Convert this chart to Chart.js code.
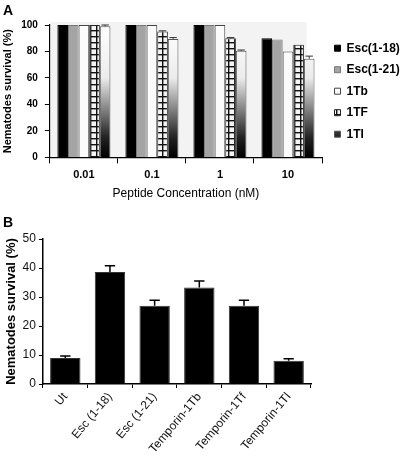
<!DOCTYPE html>
<html>
<head>
<meta charset="utf-8">
<script src="https://cdn.jsdelivr.net/npm/chart.js@4/dist/chart.umd.min.js"></script>
<style>
  html, body { margin: 0; padding: 0; background: #fff; }
  body { width: 400px; height: 462px; position: relative; overflow: hidden; }
  .panel { position: absolute; left: 0; width: 400px; }
  #wrapA { top: 0; height: 203px; }
  #wrapB { top: 200px; height: 262px; }
  .tag { position: absolute; left: 3px; font: bold 14px Arial, "Liberation Sans", sans-serif; color: #000; line-height: 16px; }
</style>
</head>
<body>
<div class="panel" id="wrapA"><canvas id="chartA"></canvas></div>
<div class="panel" id="wrapB"><canvas id="chartB"></canvas></div>
<div class="tag" style="top:2px">A</div>
<div class="tag" style="top:214px">B</div>
<script>
  // Panel A: survival vs peptide concentration
  const concLabels = ["0.01", "0.1", "1", "10"];
  const esc118A = [100, 100, 100, 90];
  const esc121A = [100, 100, 100, 89];
  const tbA = [100, 100, 100, 80];
  const tfA = [100, 95, 90, 85];
  const tlA = [99, 89.5, 80.5, 74.5];
  const tfErrA = [0, 0.6, 0.5, 0];
  const tlErrA = [1, 1, 0.6, 2];

  // Panel B: survival per peptide
  const peptideLabels = ["Ut", "Esc (1-18)", "Esc (1-21)", "Temporin-1Tb", "Temporin-1Tf", "Temporin-1Tl"];
  const survivalB = [9, 38.6, 27, 33.3, 27, 8];
  const survivalErrB = [0.7, 2.2, 1.9, 2.2, 1.9, 0.7];

  const FONT = 'Arial, "Liberation Sans", sans-serif';

  // small checkered tile for the 1TF bars
  function gridPattern() {
    const c = document.createElement("canvas");
    c.width = 6; c.height = 6;
    const g = c.getContext("2d");
    g.fillStyle = "#f4f4f4";
    g.fillRect(0, 0, 6, 6);
    g.fillStyle = "#111";
    g.fillRect(0, 0, 6, 1.4);
    g.fillRect(0, 0, 1.4, 6);
    return g.createPattern(c, "repeat");
  }

  // white-to-black fade used by the 1TI bars
  function fadeFill(context) {
    const area = context.chart.chartArea;
    if (!area) return "#888";
    const g = context.chart.ctx.createLinearGradient(0, area.top, 0, area.bottom);
    g.addColorStop(0, "#ffffff");
    g.addColorStop(0.4, "#ececec");
    g.addColorStop(0.62, "#8a8a8a");
    g.addColorStop(0.85, "#222");
    g.addColorStop(1, "#000");
    return g;
  }

  // upper error bars from dataset.errors
  const errorBars = {
    id: "errorBars",
    afterDatasetsDraw(chart) {
      const ctx = chart.ctx;
      const y = chart.scales.y;
      chart.data.datasets.forEach(function (ds, i) {
        if (!ds.errors) return;
        const meta = chart.getDatasetMeta(i);
        ctx.save();
        ctx.strokeStyle = ds.errorColor || "#000";
        ctx.lineWidth = ds.errorWidth || 1;
        meta.data.forEach(function (bar, j) {
          const e = ds.errors[j];
          if (!e) return;
          const top = y.getPixelForValue(ds.data[j] + e);
          const cap = bar.width * (ds.capRatio || 0.3);
          ctx.beginPath();
          ctx.moveTo(bar.x, bar.y);
          ctx.lineTo(bar.x, top);
          ctx.moveTo(bar.x - cap, top);
          ctx.lineTo(bar.x + cap, top);
          ctx.stroke();
        });
        ctx.restore();
      });
    }
  };

  // light plot background for panel A
  const plotBg = {
    id: "plotBg",
    beforeDraw(chart, args, opts) {
      if (!opts.color) return;
      const a = chart.chartArea;
      const ctx = chart.ctx;
      ctx.save();
      ctx.fillStyle = opts.color;
      ctx.fillRect(a.left + 1, a.top - 3, (a.right - a.left) * 0.94, a.bottom - a.top + 3);
      ctx.restore();
    }
  };

  new Chart(document.getElementById("chartA"), {
    type: "bar",
    data: {
      labels: concLabels,
      datasets: [
        { label: "Esc(1-18)", data: esc118A, backgroundColor: "#000", borderColor: "#000", borderWidth: 1 },
        { label: "Esc(1-21)", data: esc121A, backgroundColor: "#a4a4a4", borderColor: "#777", borderWidth: 1 },
        { label: "1Tb", data: tbA, backgroundColor: "#fbfbfb", borderColor: "#444", borderWidth: 1 },
        { label: "1TF", data: tfA, errors: tfErrA, errorColor: "#333", capRatio: 0.35,
          backgroundColor: gridPattern(), borderColor: "#222", borderWidth: 1 },
        { label: "1TI", data: tlA, errors: tlErrA, errorColor: "#333", capRatio: 0.35,
          backgroundColor: fadeFill, borderColor: "#555", borderWidth: 1 }
      ]
    },
    options: {
      responsive: true,
      maintainAspectRatio: false,
      animation: false,
      layout: { padding: { top: 25, left: 1, right: 0, bottom: 2 } },
      datasets: { bar: { categoryPercentage: 0.78, barPercentage: 1 } },
      plugins: {
        // empty right-hand subtitle keeps a small gap between plot and legend
        subtitle: { display: true, text: " ", position: "right", fullSize: false, padding: 0,
                    font: { size: 3, lineHeight: 1 } },
        legend: {
          position: "right",
          fullSize: false,
          weight: 3000,
          maxWidth: 75,
          labels: { boxWidth: 6, boxHeight: 6, padding: 9.5, color: "#000", font: { family: FONT, size: 12, weight: "bold" } }
        },
        tooltip: { enabled: false },
        plotBg: { color: "#f3f3f3" }
      },
      scales: {
        x: {
          grid: { display: true, drawOnChartArea: false, offset: true, tickLength: 6, color: "#000" },
          border: { color: "#000", width: 1.2 },
          ticks: { color: "#000", padding: 5, font: { family: FONT, size: 11, weight: "bold" } },
          title: { display: true, text: "Peptide Concentration (nM)", color: "#000", padding: { top: 0, bottom: 0 },
                   font: { family: FONT, size: 12 } }
        },
        y: {
          min: 0,
          max: 100,
          grid: { display: true, drawOnChartArea: false, tickLength: 5, color: "#000" },
          border: { color: "#000", width: 1.2 },
          ticks: { stepSize: 20, color: "#000", padding: 7, font: { family: FONT, size: 10, weight: "bold" } },
          title: { display: true, text: "Nematodes survival (%)", color: "#000", padding: 0,
                   font: { family: FONT, size: 11, weight: "bold" } }
        }
      }
    },
    plugins: [plotBg, errorBars]
  });

  new Chart(document.getElementById("chartB"), {
    type: "bar",
    data: {
      labels: peptideLabels,
      datasets: [
        { label: "Survival", data: survivalB, errors: survivalErrB, errorColor: "#000", errorWidth: 1.5, capRatio: 0.17,
          backgroundColor: "#000", borderColor: "#333", borderWidth: 1 }
      ]
    },
    options: {
      responsive: true,
      maintainAspectRatio: false,
      animation: false,
      layout: { padding: { top: 39, left: 4, right: 89, bottom: 4 } },
      datasets: { bar: { categoryPercentage: 1, barPercentage: 0.68 } },
      plugins: { legend: { display: false }, tooltip: { enabled: false } },
      scales: {
        x: {
          grid: { display: true, drawOnChartArea: false, offset: true, tickLength: 4, color: "#000" },
          border: { color: "#000", width: 1.5 },
          ticks: { color: "#111", padding: 2, maxRotation: 50, minRotation: 50, font: { family: FONT, size: 12 } }
        },
        y: {
          min: 0,
          max: 50,
          grid: { display: true, drawOnChartArea: false, tickLength: 4, color: "#000" },
          border: { color: "#000", width: 1.5 },
          ticks: { stepSize: 10, color: "#111", padding: 3, font: { family: FONT, size: 12 } },
          title: { display: true, text: "Nematodes survival (%)", color: "#000", padding: 0,
                   font: { family: FONT, size: 13, weight: "bold" } }
        }
      }
    },
    plugins: [errorBars]
  });
</script>
</body>
</html>
